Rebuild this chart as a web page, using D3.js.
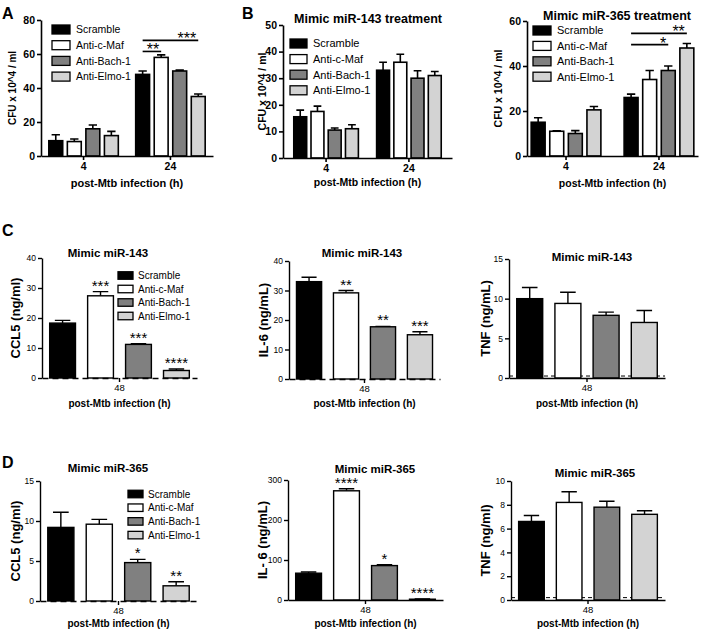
<!DOCTYPE html>
<html>
<head>
<meta charset="utf-8">
<script src="https://cdn.jsdelivr.net/npm/d3@7"></script>
<style>
body { margin: 0; background: #fff; }
text { font-family: "Liberation Sans", Arial, sans-serif; }
</style>
</head>
<body>
<div id="fig"></div>
<script>
// groups and colours
const groups = ["Scramble", "Anti-c-Maf", "Anti-Bach-1", "Anti-Elmo-1"];
const barColors = ["#000000", "#ffffff", "#808080", "#d3d3d3"];
const timesAB = ["4", "24"];
const timesCD = ["48"];

// A: CFU x 10^4 / ml
const cfuA_4 = [9, 8.5, 16, 12];
const semA_4 = [3.5, 1.5, 2.2, 2.5];
const cfuA_24 = [48, 58, 50, 35];
const semA_24 = [2, 1.5, 0.5, 1.5];

// B: mimic miR-143 treatment
const cfuB143_4 = [15.5, 17.5, 10.5, 11];
const semB143_4 = [2.5, 2, 0.8, 1.5];
const cfuB143_24 = [33, 36, 30, 31];
const semB143_24 = [3, 3, 2.8, 1.5];

// B: mimic miR-365 treatment
const cfuB365_4 = [15, 11, 10, 20.5];
const semB365_4 = [2, 0.2, 1.3, 1.5];
const cfuB365_24 = [26, 34, 38, 48];
const semB365_24 = [1.5, 4, 2, 2];

// C: mimic miR-143, 48 h
const ccl5_143 = [18.3, 27.4, 11.2, 2.5];
const ccl5_143sem = [0.9, 1.4, 0.2, 0.5];
const ccl5_143stars = ["", "***", "***", "****"];
const il6_143 = [33, 29.2, 17.7, 15];
const il6_143sem = [1.5, 0.8, 0.1, 1];
const il6_143stars = ["", "**", "**", "***"];
const tnf_143 = [10, 9.4, 7.9, 7.0];
const tnf_143sem = [1.4, 1.4, 0.4, 1.5];

// D: mimic miR-365, 48 h
const ccl5_365 = [9.2, 9.6, 4.8, 1.9];
const ccl5_365sem = [1.9, 0.6, 0.4, 0.5];
const ccl5_365stars = ["", "", "*", "**"];
const il6_365 = [67, 273, 86, 2];
const il6_365sem = [3, 5, 2, 0.5];
const il6_365stars = ["", "****", "*", "****"];
const tnf_365 = [6.6, 8.2, 7.8, 7.2];
const tnf_365sem = [0.5, 0.9, 0.5, 0.3];

// significance brackets (time, from group, to group, y value, label)
const sigA = [
  {t: "24", from: 0, to: 1, v: 61.5, label: "**"},
  {t: "24", from: 0, to: 3, v: 68, label: "***"}
];
const sigB365 = [
  {t: "24", from: 0, to: 3, v: 54.5, label: "**"},
  {t: "24", from: 0, to: 2, v: 49.5, label: "*"}
];

const svg = d3.select("#fig").append("svg")
  .attr("width", 703)
  .attr("height", 636);

function drawPanel(p) {
  const g = svg.append("g");

  const y = d3.scaleLinear().domain([0, p.yMax]).range([p.yBot, p.yTop]);
  const x0 = d3.scaleBand().domain(p.times).range([p.xLeft, p.xRight])
    .paddingInner(p.padIn).paddingOuter(p.padOut);
  const x1 = d3.scaleBand().domain(groups).range([0, x0.bandwidth()])
    .paddingInner(p.barPad);

  const rows = p.times.flatMap((t, ti) => groups.map((gr, gi) => ({
    t: t, gr: gr, gi: gi,
    v: p.means[ti][gi], e: p.sems[ti][gi],
    star: p.stars ? p.stars[gi] : ""
  })));

  const bw = x1.bandwidth();
  const cx = d => x0(d.t) + x1(d.gr) + bw / 2;

  // dashed detection line
  if (p.lod !== undefined) {
    g.append("line")
      .attr("x1", p.xLeft).attr("x2", p.xRight)
      .attr("y1", y(p.lod)).attr("y2", y(p.lod))
      .attr("stroke", "#000").attr("stroke-width", 1)
      .attr("stroke-dasharray", "4,3");
  }

  // error bars (upper only)
  g.selectAll(".err").data(rows).join("path")
    .attr("d", d => {
      const top = y(d.v + d.e), c = cx(d), h = bw * 0.3;
      return `M${c},${y(d.v)}V${top}M${c - h},${top}H${c + h}`;
    })
    .attr("stroke", "#000").attr("stroke-width", p.sw).attr("fill", "none");

  // bars
  g.selectAll(".bar").data(rows).join("rect")
    .attr("x", d => x0(d.t) + x1(d.gr))
    .attr("y", d => y(d.v))
    .attr("width", bw)
    .attr("height", d => y(0) - y(d.v))
    .attr("fill", d => barColors[d.gi])
    .attr("stroke", "#000").attr("stroke-width", p.sw);

  // stars over bars
  g.selectAll(".star").data(rows.filter(d => d.star)).join("text")
    .attr("x", cx)
    .attr("y", d => y(d.v + d.e) - 1)
    .attr("text-anchor", "middle")
    .attr("font-size", p.starSize)
    .text(d => d.star);

  // axes
  const yAxis = g.append("g")
    .attr("transform", `translate(${p.xLeft},0)`)
    .call(d3.axisLeft(y).tickValues(d3.range(0, p.yMax + 0.001, p.step))
      .tickSize(4).tickSizeOuter(0).tickPadding(2));
  const xAxis = g.append("g")
    .attr("transform", `translate(0,${p.yBot})`)
    .call(d3.axisBottom(x0).tickSize(4).tickSizeOuter(0).tickPadding(p.xTickPad));

  [yAxis, xAxis].forEach(a => {
    a.select(".domain").attr("stroke-width", p.sw);
    a.selectAll(".tick line").attr("stroke-width", p.sw);
    a.selectAll("text")
      .attr("font-family", '"Liberation Sans", Arial, sans-serif')
      .attr("font-weight", p.tickBold ? "bold" : "normal")
      .attr("font-size", p.tickSize)
      .attr("fill", "#000");
  });
  if (p.dashAxis) xAxis.select(".domain").attr("stroke-dasharray", "6,4");
  xAxis.selectAll("text").attr("font-size", p.xTickSize);

  // y label
  g.append("text")
    .attr("transform", `translate(${p.yLabelX},${(p.yTop + p.yBot) / 2}) rotate(-90)`)
    .attr("text-anchor", "middle").attr("dy", "0.35em")
    .attr("font-weight", "bold").attr("font-size", p.yLabelSize)
    .text(p.yLabel);

  // x label
  g.append("text")
    .attr("x", (p.xLeft + p.xRight) / 2)
    .attr("y", p.xLabelY)
    .attr("text-anchor", "middle")
    .attr("font-weight", "bold").attr("font-size", p.xLabelSize)
    .text("post-Mtb infection (h)");

  // title
  if (p.title) {
    g.append("text")
      .attr("x", p.titleX).attr("y", p.titleY)
      .attr("text-anchor", "middle")
      .attr("font-weight", "bold").attr("font-size", p.titleSize)
      .text(p.title);
  }

  // panel letter
  if (p.letter) {
    g.append("text")
      .attr("x", p.letterX).attr("y", p.letterY)
      .attr("font-weight", "bold").attr("font-size", 16)
      .text(p.letter);
  }

  // significance brackets
  if (p.sig) {
    const gcx = (t, gi) => x0(t) + x1(groups[gi]) + bw / 2;
    p.sig.forEach(s => {
      const x2 = gcx(s.t, s.to);
      g.append("line")
        .attr("x1", gcx(s.t, s.from)).attr("x2", x2)
        .attr("y1", y(s.v)).attr("y2", y(s.v))
        .attr("stroke", "#000").attr("stroke-width", 1.6);
      g.append("text")
        .attr("x", x2 - 2).attr("y", y(s.v) + 4)
        .attr("text-anchor", "end")
        .attr("font-size", p.sigSize)
        .text(s.label);
    });
  }

  // legend
  if (p.legend) {
    const L = p.legend;
    const lg = g.append("g");
    groups.forEach((gr, i) => {
      const cy = L.y + i * L.dy;
      lg.append("rect")
        .attr("x", L.x).attr("y", cy - L.h / 2)
        .attr("width", L.w).attr("height", L.h)
        .attr("fill", barColors[i])
        .attr("stroke", "#000").attr("stroke-width", 1.3);
      lg.append("text")
        .attr("x", L.x + L.w + L.gap).attr("y", cy)
        .attr("dy", "0.35em")
        .attr("font-size", L.size)
        .text(gr);
    });
  }
}

const abStyle = {sw: 1.6, tickBold: true, tickSize: 10.5, xTickSize: 10.5, xTickPad: 3,
  starSize: 15, sigSize: 16, barPad: 0.25};
const cdStyle = {sw: 1.4, tickBold: false, tickSize: 8.5, xTickSize: 9.5, xTickPad: 2,
  starSize: 15, barPad: 0.32, padIn: 0, padOut: 0.055, step: 0,
  yLabelSize: 13, xLabelSize: 10, titleSize: 11.5};

// Panel A
drawPanel(Object.assign({}, abStyle, {
  times: timesAB, means: [cfuA_4, cfuA_24], sems: [semA_4, semA_24],
  xLeft: 41, xRight: 213, yTop: 20, yBot: 156, yMax: 80, step: 20,
  padIn: 0.2, padOut: 0.09,
  yLabel: "CFU x 10^4 / ml", yLabelX: 12, yLabelSize: 10,
  xLabelY: 187, xLabelSize: 11,
  letter: "A", letterX: 2, letterY: 19,
  sig: sigA,
  legend: {x: 52, y: 29.5, dy: 15.7, w: 18, h: 9, gap: 6, size: 10.5}
}));

// Panel B left
drawPanel(Object.assign({}, abStyle, {
  times: timesAB, means: [cfuB143_4, cfuB143_24], sems: [semB143_4, semB143_24],
  xLeft: 283, xRight: 452, yTop: 25, yBot: 158, yMax: 50, step: 10,
  padIn: 0.22, padOut: 0.13,
  yLabel: "CFU x 10^4 / ml", yLabelX: 262, yLabelSize: 10.5,
  xLabelY: 186, xLabelSize: 10.5,
  title: "Mimic miR-143 treatment", titleX: 368, titleY: 23, titleSize: 12.5,
  letter: "B", letterX: 242, letterY: 19,
  legend: {x: 290, y: 43.5, dy: 15.6, w: 17, h: 9, gap: 6, size: 11}
}));

// Panel B right
drawPanel(Object.assign({}, abStyle, {
  times: timesAB, means: [cfuB365_4, cfuB365_24], sems: [semB365_4, semB365_24],
  xLeft: 527, xRight: 698, yTop: 21, yBot: 156, yMax: 60, step: 20,
  padIn: 0.25, padOut: 0.045,
  yLabel: "CFU x 10^4 / ml", yLabelX: 498, yLabelSize: 10.5,
  xLabelY: 187, xLabelSize: 10.5,
  title: "Mimic miR-365 treatment", titleX: 617, titleY: 20, titleSize: 12.5,
  sig: sigB365,
  legend: {x: 533, y: 30.5, dy: 15.4, w: 18, h: 9, gap: 6, size: 11}
}));

// Panel C
drawPanel(Object.assign({}, cdStyle, {
  times: timesCD, means: [ccl5_143], sems: [ccl5_143sem], stars: ccl5_143stars,
  xLeft: 42, xRight: 197, yTop: 258, yBot: 378, yMax: 40, step: 10, dashAxis: true,
  yLabel: "CCL5 (ng/ml)", yLabelX: 15, xLabelY: 407,
  title: "Mimic miR-143", titleX: 108, titleY: 257,
  letter: "C", letterX: 2, letterY: 236,
  legend: {x: 118, y: 275.5, dy: 13.5, w: 15, h: 7.5, gap: 5, size: 10}
}));
drawPanel(Object.assign({}, cdStyle, {
  times: timesCD, means: [il6_143], sems: [il6_143sem], stars: il6_143stars,
  xLeft: 289, xRight: 440, yTop: 261, yBot: 379, yMax: 40, step: 10, dashAxis: true,
  yLabel: "IL-6 (ng/mL)", yLabelX: 263, xLabelY: 407,
  title: "Mimic miR-143", titleX: 362, titleY: 257
}));
drawPanel(Object.assign({}, cdStyle, {
  times: timesCD, means: [tnf_143], sems: [tnf_143sem],
  xLeft: 509, xRight: 665, yTop: 259, yBot: 378, yMax: 15, step: 5, lod: 0.25,
  yLabel: "TNF  (ng/mL)", yLabelX: 485, xLabelY: 407,
  title: "Mimic miR-143", titleX: 592, titleY: 261
}));

// Panel D
drawPanel(Object.assign({}, cdStyle, {
  times: timesCD, means: [ccl5_365], sems: [ccl5_365sem], stars: ccl5_365stars,
  xLeft: 40, xRight: 197, yTop: 481, yBot: 601, yMax: 15, step: 5, dashAxis: true,
  yLabel: "CCL5 (ng/ml)", yLabelX: 15, xLabelY: 627,
  title: "Mimic miR-365", titleX: 108, titleY: 472,
  letter: "D", letterX: 2, letterY: 468,
  legend: {x: 128, y: 494, dy: 13.7, w: 15, h: 7.5, gap: 5, size: 10}
}));
drawPanel(Object.assign({}, cdStyle, {
  times: timesCD, means: [il6_365], sems: [il6_365sem], stars: il6_365stars,
  xLeft: 288, xRight: 443, yTop: 480, yBot: 600, yMax: 300, step: 100,
  yLabel: "IL- 6 (ng/mL)", yLabelX: 262, xLabelY: 627,
  title: "Mimic miR-365", titleX: 375, titleY: 473
}));
drawPanel(Object.assign({}, cdStyle, {
  times: timesCD, means: [tnf_365], sems: [tnf_365sem],
  xLeft: 511, xRight: 665, yTop: 481, yBot: 600, yMax: 10, step: 2, lod: 0.2,
  yLabel: "TNF (ng/ml)", yLabelX: 485, xLabelY: 627,
  title: "Mimic miR-365", titleX: 595, titleY: 477
}));
</script>
</body>
</html>
